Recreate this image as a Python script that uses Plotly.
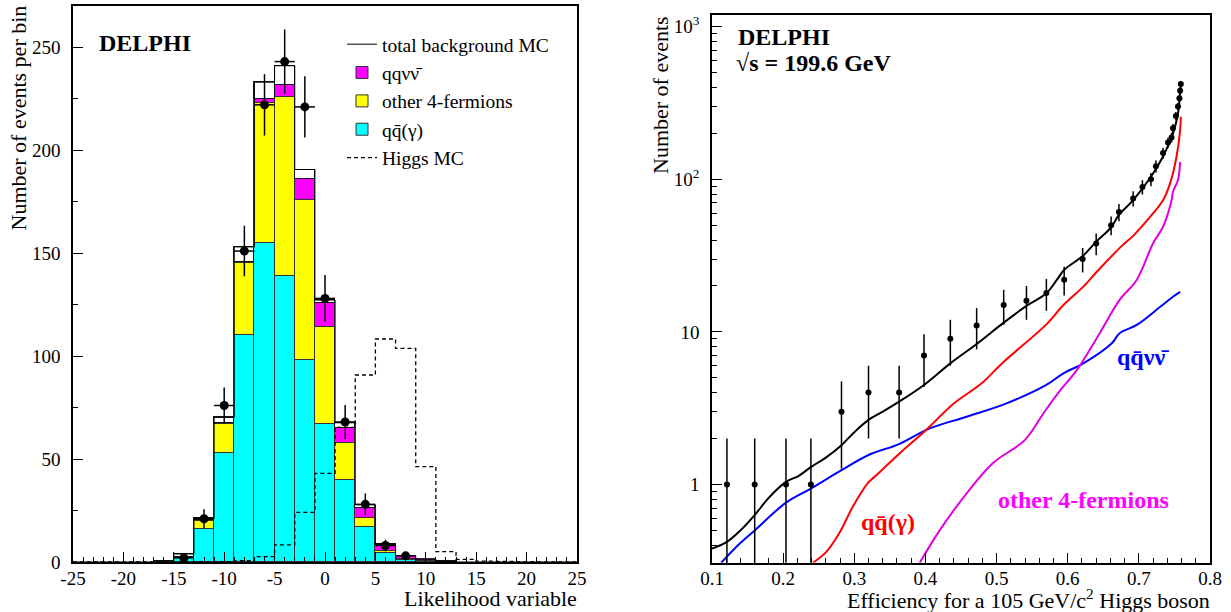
import numpy as np
import plotly.graph_objects as go

# ---------------- Left panel: likelihood variable histogram ----------------
lik_centers = list(range(-24, 25, 2))
lik_edges = list(range(-25, 26, 2))
qq_gamma = [None]*4 + [0.3, 2.0, 16, 53, 110, 155, 139, 98, 67, 40, 17, 4.2, 1.0, 0.2] + [None]*7
other_4f = [None]*5 + [0.3, 4, 14, 35, 68, 87, 78, 47, 18, 4.6, 1.3, 0.3, 0.1] + [None]*7
qqnunu = [None]*5 + [0.1, 0.3, 0.5, 0.7, 1.8, 5.5, 10, 12, 7, 4.8, 2.8, 1.6, 1.0, 0.2] + [None]*6
total_bkg = [0]*4 + [0.5, 3.9, 21.2, 70.2, 153, 233, 241, 190.6, 127.2, 67.6, 27.8, 8.7, 3.1, 1.3, 0.3] + [0]*6
higgs_mc = [0]*7 + [0.2, 0.6, 2.6, 8.3, 24.1, 43, 65.4, 90.8, 108.3, 103.7, 46.3, 5, 1.3, 0.4, 0.3, 0.2, 0.1, 0.1]
data_x = [-14, -12, -10, -8, -6, -4, -2, 0, 2, 4, 6, 8]
data_n = [2, 21, 76, 151, 222, 243, 221, 128, 68, 28, 8, 3]
lik_ticks = list(range(-25, 26, 5))

# ---------------- Right panel: events vs efficiency ----------------
eff_data = [0.121, 0.160, 0.204, 0.239, 0.282, 0.320, 0.363, 0.398, 0.435, 0.472, 0.510, 0.542,
            0.570, 0.595, 0.621, 0.640, 0.661, 0.672, 0.692, 0.705, 0.717, 0.724, 0.734, 0.741,
            0.746, 0.748, 0.752, 0.755, 0.757, 0.758, 0.759]
n_eff_data = [1, 1, 1, 1, 3, 4, 4, 7, 9, 11, 15, 16, 18, 22, 30, 38, 50, 61, 75, 89, 100, 122,
              149, 174, 188, 216, 260, 300, 340, 380, 421]

eff_tot = [0.100, 0.121, 0.140, 0.160, 0.180, 0.204, 0.222, 0.239, 0.260, 0.282, 0.300, 0.320,
           0.340, 0.363, 0.398, 0.435, 0.472, 0.510, 0.542, 0.570, 0.585, 0.595, 0.621, 0.640,
           0.661, 0.672, 0.692, 0.717, 0.734, 0.748, 0.755, 0.758, 0.759]
bkg_tot = [0.38, 0.42, 0.50, 0.63, 0.82, 1.04, 1.14, 1.30, 1.50, 1.81, 2.20, 2.65, 3.0, 3.49,
           4.49, 6.22, 8.33, 11.5, 14.8, 17.9, 22.0, 25.5, 31.4, 39.0, 48.5, 58.4, 73, 104, 141,
           200, 270, 367, 421]

eff_qq = [0.242, 0.261, 0.279, 0.298, 0.319, 0.331, 0.364, 0.402, 0.439, 0.479, 0.509, 0.570,
          0.594, 0.622, 0.641, 0.675, 0.693, 0.716, 0.734, 0.744, 0.753, 0.758, 0.759]
bkg_qq = [0.307, 0.363, 0.48, 0.716, 1.02, 1.15, 1.60, 2.30, 3.37, 4.6, 6.3, 11.2, 15.0, 19.8,
          24.8, 36.2, 43.1, 56.9, 73, 94.4, 141, 210, 257]

eff_4f = [0.392, 0.420, 0.458, 0.495, 0.540, 0.566, 0.587, 0.613, 0.645, 0.673, 0.697, 0.720,
          0.734, 0.746, 0.748, 0.755, 0.758]
bkg_4f = [0.307, 0.50, 0.875, 1.38, 1.96, 2.93, 4.0, 5.63, 9.8, 16.2, 21.9, 38.1, 48.9, 73, 83,
          99, 130]

eff_qqnn = [0.113, 0.139, 0.160, 0.204, 0.239, 0.282, 0.320, 0.363, 0.406, 0.458, 0.514, 0.570,
            0.594, 0.622, 0.662, 0.673, 0.697, 0.730, 0.748, 0.758]
bkg_qqnn = [0.307, 0.41, 0.50, 0.76, 0.94, 1.24, 1.56, 1.84, 2.33, 2.78, 3.40, 4.49, 5.35, 6.22,
            8.42, 9.8, 11.1, 14.6, 17.0, 18.3]

FONT = "Liberation Serif"
W, H = 1231, 612

# derived
stack_sum = [sum(v or 0 for v in t) for t in zip(qq_gamma, other_4f, qqnunu)]
rest = [(t - s) if (t - s) > 0.05 else None for t, s in zip(total_bkg, stack_sum)]

fig = go.Figure()
edge_line = dict(color="#333333", width=1)

fig.add_trace(go.Bar(x=lik_centers, y=qq_gamma, width=2, marker=dict(color="#00ffff", line=edge_line),
                     name="qq\u0304(\u03b3)", legendrank=4, xaxis="x", yaxis="y"))
fig.add_trace(go.Bar(x=lik_centers, y=other_4f, width=2, marker=dict(color="#ffff00", line=edge_line),
                     name="other 4-fermions", legendrank=3, xaxis="x", yaxis="y"))
fig.add_trace(go.Bar(x=lik_centers, y=qqnunu, width=2, marker=dict(color="#ff00ff", line=edge_line),
                     name="qq\u03bd\u03bd\u0304", legendrank=2, xaxis="x", yaxis="y"))
fig.add_trace(go.Bar(x=lik_centers, y=rest, width=2, marker=dict(color="white", line=dict(color="#111111", width=1)),
                     showlegend=False, xaxis="x", yaxis="y"))
fig.add_trace(go.Scatter(x=lik_edges, y=total_bkg + [total_bkg[-1]], mode="lines", line_shape="hv",
                         line=dict(color="black", width=1), name="total background MC", legendrank=1,
                         xaxis="x", yaxis="y"))
fig.add_trace(go.Scatter(x=lik_edges, y=higgs_mc + [higgs_mc[-1]], mode="lines", line_shape="hv",
                         line=dict(color="black", width=1.3, dash="4px,3px"), name="Higgs MC", legendrank=5,
                         xaxis="x", yaxis="y"))
fig.add_trace(go.Scatter(x=data_x, y=data_n, mode="markers",
                         marker=dict(color="black", size=9),
                         error_y=dict(type="data", array=list(np.sqrt(data_n)), color="black", thickness=1.5, width=0),
                         error_x=dict(type="constant", value=1, color="black", thickness=1.5, width=0),
                         showlegend=False, xaxis="x", yaxis="y"))

# right panel
n_arr = np.array(n_eff_data, dtype=float)
err_up = np.sqrt(n_arr)
err_dn = np.where(n_arr - err_up <= 0, n_arr * 0.9999, err_up)
fig.add_trace(go.Scatter(x=eff_qqnn, y=bkg_qqnn, mode="lines", line=dict(color="#0000ff", width=2, shape="spline"),
                         showlegend=False, xaxis="x2", yaxis="y2"))
fig.add_trace(go.Scatter(x=eff_4f, y=bkg_4f, mode="lines", line=dict(color="#e000e0", width=2, shape="spline"),
                         showlegend=False, xaxis="x2", yaxis="y2"))
fig.add_trace(go.Scatter(x=eff_qq, y=bkg_qq, mode="lines", line=dict(color="#ff0000", width=2, shape="spline"),
                         showlegend=False, xaxis="x2", yaxis="y2"))
fig.add_trace(go.Scatter(x=eff_tot, y=bkg_tot, mode="lines", line=dict(color="black", width=2, shape="spline"),
                         showlegend=False, xaxis="x2", yaxis="y2"))
fig.add_trace(go.Scatter(x=eff_data, y=n_eff_data, mode="markers", marker=dict(color="black", size=6),
                         error_y=dict(type="data", array=list(err_up), arrayminus=list(err_dn),
                                      color="black", thickness=1.5, width=0),
                         showlegend=False, xaxis="x2", yaxis="y2"))

tickfont = dict(family=FONT, size=19, color="black")
ax_common = dict(showline=True, linecolor="black", linewidth=1.5, mirror=True, ticks="inside",
                 tickcolor="black", ticklen=10, tickwidth=1, showgrid=False, zeroline=False,
                 tickfont=tickfont, automargin=False)

minor_log = [m * 10.0**k for k in range(-1, 4) for m in range(2, 10) if 0.3 <= m * 10.0**k <= 1200]

fig.update_layout(
    width=W, height=H, margin=dict(l=0, r=0, t=0, b=0, autoexpand=False),
    paper_bgcolor="white", plot_bgcolor="white",
    barmode="stack", bargap=0,
    xaxis=dict(domain=[73/W, 577/W], range=[-25, 25], anchor="y",
               tickmode="array", tickvals=lik_ticks, ticktext=[str(v) for v in lik_ticks],
               minor=dict(dtick=1, tick0=-25, ticklen=5, ticks="inside", tickcolor="black"),
               ticklabelstandoff=-2, **ax_common),
    yaxis=dict(domain=[1-562/H, 1-6/H], range=[0, 270], dtick=50, anchor="x",
               minor=dict(dtick=25, ticklen=5, ticks="inside", tickcolor="black"),
               ticklabelstandoff=7, **ax_common),
    xaxis2=dict(domain=[712/W, 1210/W], range=[0.1, 0.8], dtick=0.1, tick0=0.1, anchor="y2",
                tickformat=".1f",
                minor=dict(dtick=0.02, tick0=0.1, ticklen=5, ticks="inside", tickcolor="black"),
                ticklabelstandoff=-2, **ax_common),
    yaxis2=dict(domain=[1-562.7/H, 1-15/H], type="log", range=[np.log10(0.307), 3.077], anchor="x2",
                tickmode="array", tickvals=[1, 10, 100, 1000],
                ticktext=["1", "10", "10<sup>2</sup>", "10<sup>3</sup>"],
                minor=dict(tickmode="array", tickvals=minor_log, ticklen=5, ticks="inside", tickcolor="black"),
                ticklabelstandoff=7, **ax_common),
    legend=dict(x=342/W, y=1-25/H, xanchor="left", yanchor="top", bgcolor="rgba(0,0,0,0)",
                font=dict(family=FONT, size=19.5, color="black"), traceorder="normal",
                tracegroupgap=0, itemwidth=30),
    font=dict(family=FONT, color="black"),
)

ann = []
ann.append(dict(text="<b>DELPHI</b>", x=97/W, y=1-43/H, xref="paper", yref="paper",
                xanchor="left", yanchor="middle", showarrow=False,
                font=dict(family=FONT, size=24, color="black")))
ann.append(dict(text="<b>DELPHI</b>", x=736/W, y=1-37/H, xref="paper", yref="paper",
                xanchor="left", yanchor="middle", showarrow=False,
                font=dict(family=FONT, size=24, color="black")))
ann.append(dict(text="<b>\u221as = 199.6 GeV</b>", x=734/W, y=1-63/H, xref="paper", yref="paper",
                xanchor="left", yanchor="middle", showarrow=False,
                font=dict(family=FONT, size=24, color="black")))
ann.append(dict(text="Likelihood variable", x=579/W, y=1-598.5/H, xref="paper", yref="paper",
                xanchor="right", yanchor="middle", showarrow=False,
                font=dict(family=FONT, size=22, color="black")))
ann.append(dict(text="Efficiency for a 105 GeV/c<sup>2</sup> Higgs boson", x=1212/W, y=1-598.5/H,
                xref="paper", yref="paper", xanchor="right", yanchor="middle", showarrow=False,
                font=dict(family=FONT, size=22, color="black")))
ann.append(dict(text="Number of events per bin", x=18/W, y=1-4/H, xref="paper", yref="paper",
                xanchor="center", yanchor="top", textangle=-90, showarrow=False,
                font=dict(family=FONT, size=22, color="black")))
ann.append(dict(text="Number of events", x=660/W, y=1-14/H, xref="paper", yref="paper",
                xanchor="center", yanchor="top", textangle=-90, showarrow=False,
                font=dict(family=FONT, size=22, color="black")))
ann.append(dict(text="<b>qq\u0304\u03bd\u03bd\u0304</b>", x=1143/W, y=1-357/H, xref="paper", yref="paper",
                xanchor="center", yanchor="middle", showarrow=False,
                font=dict(family=FONT, size=24, color="#0000ff")))
ann.append(dict(text="<b>qq\u0304(\u03b3)</b>", x=888/W, y=1-522/H, xref="paper", yref="paper",
                xanchor="center", yanchor="middle", showarrow=False,
                font=dict(family=FONT, size=24, color="#ff0000")))
ann.append(dict(text="<b>other 4-fermions</b>", x=1083/W, y=1-500/H, xref="paper", yref="paper",
                xanchor="center", yanchor="middle", showarrow=False,
                font=dict(family=FONT, size=24, color="#ff00ff")))
fig.update_layout(annotations=ann)

fig.write_html("out.html")
